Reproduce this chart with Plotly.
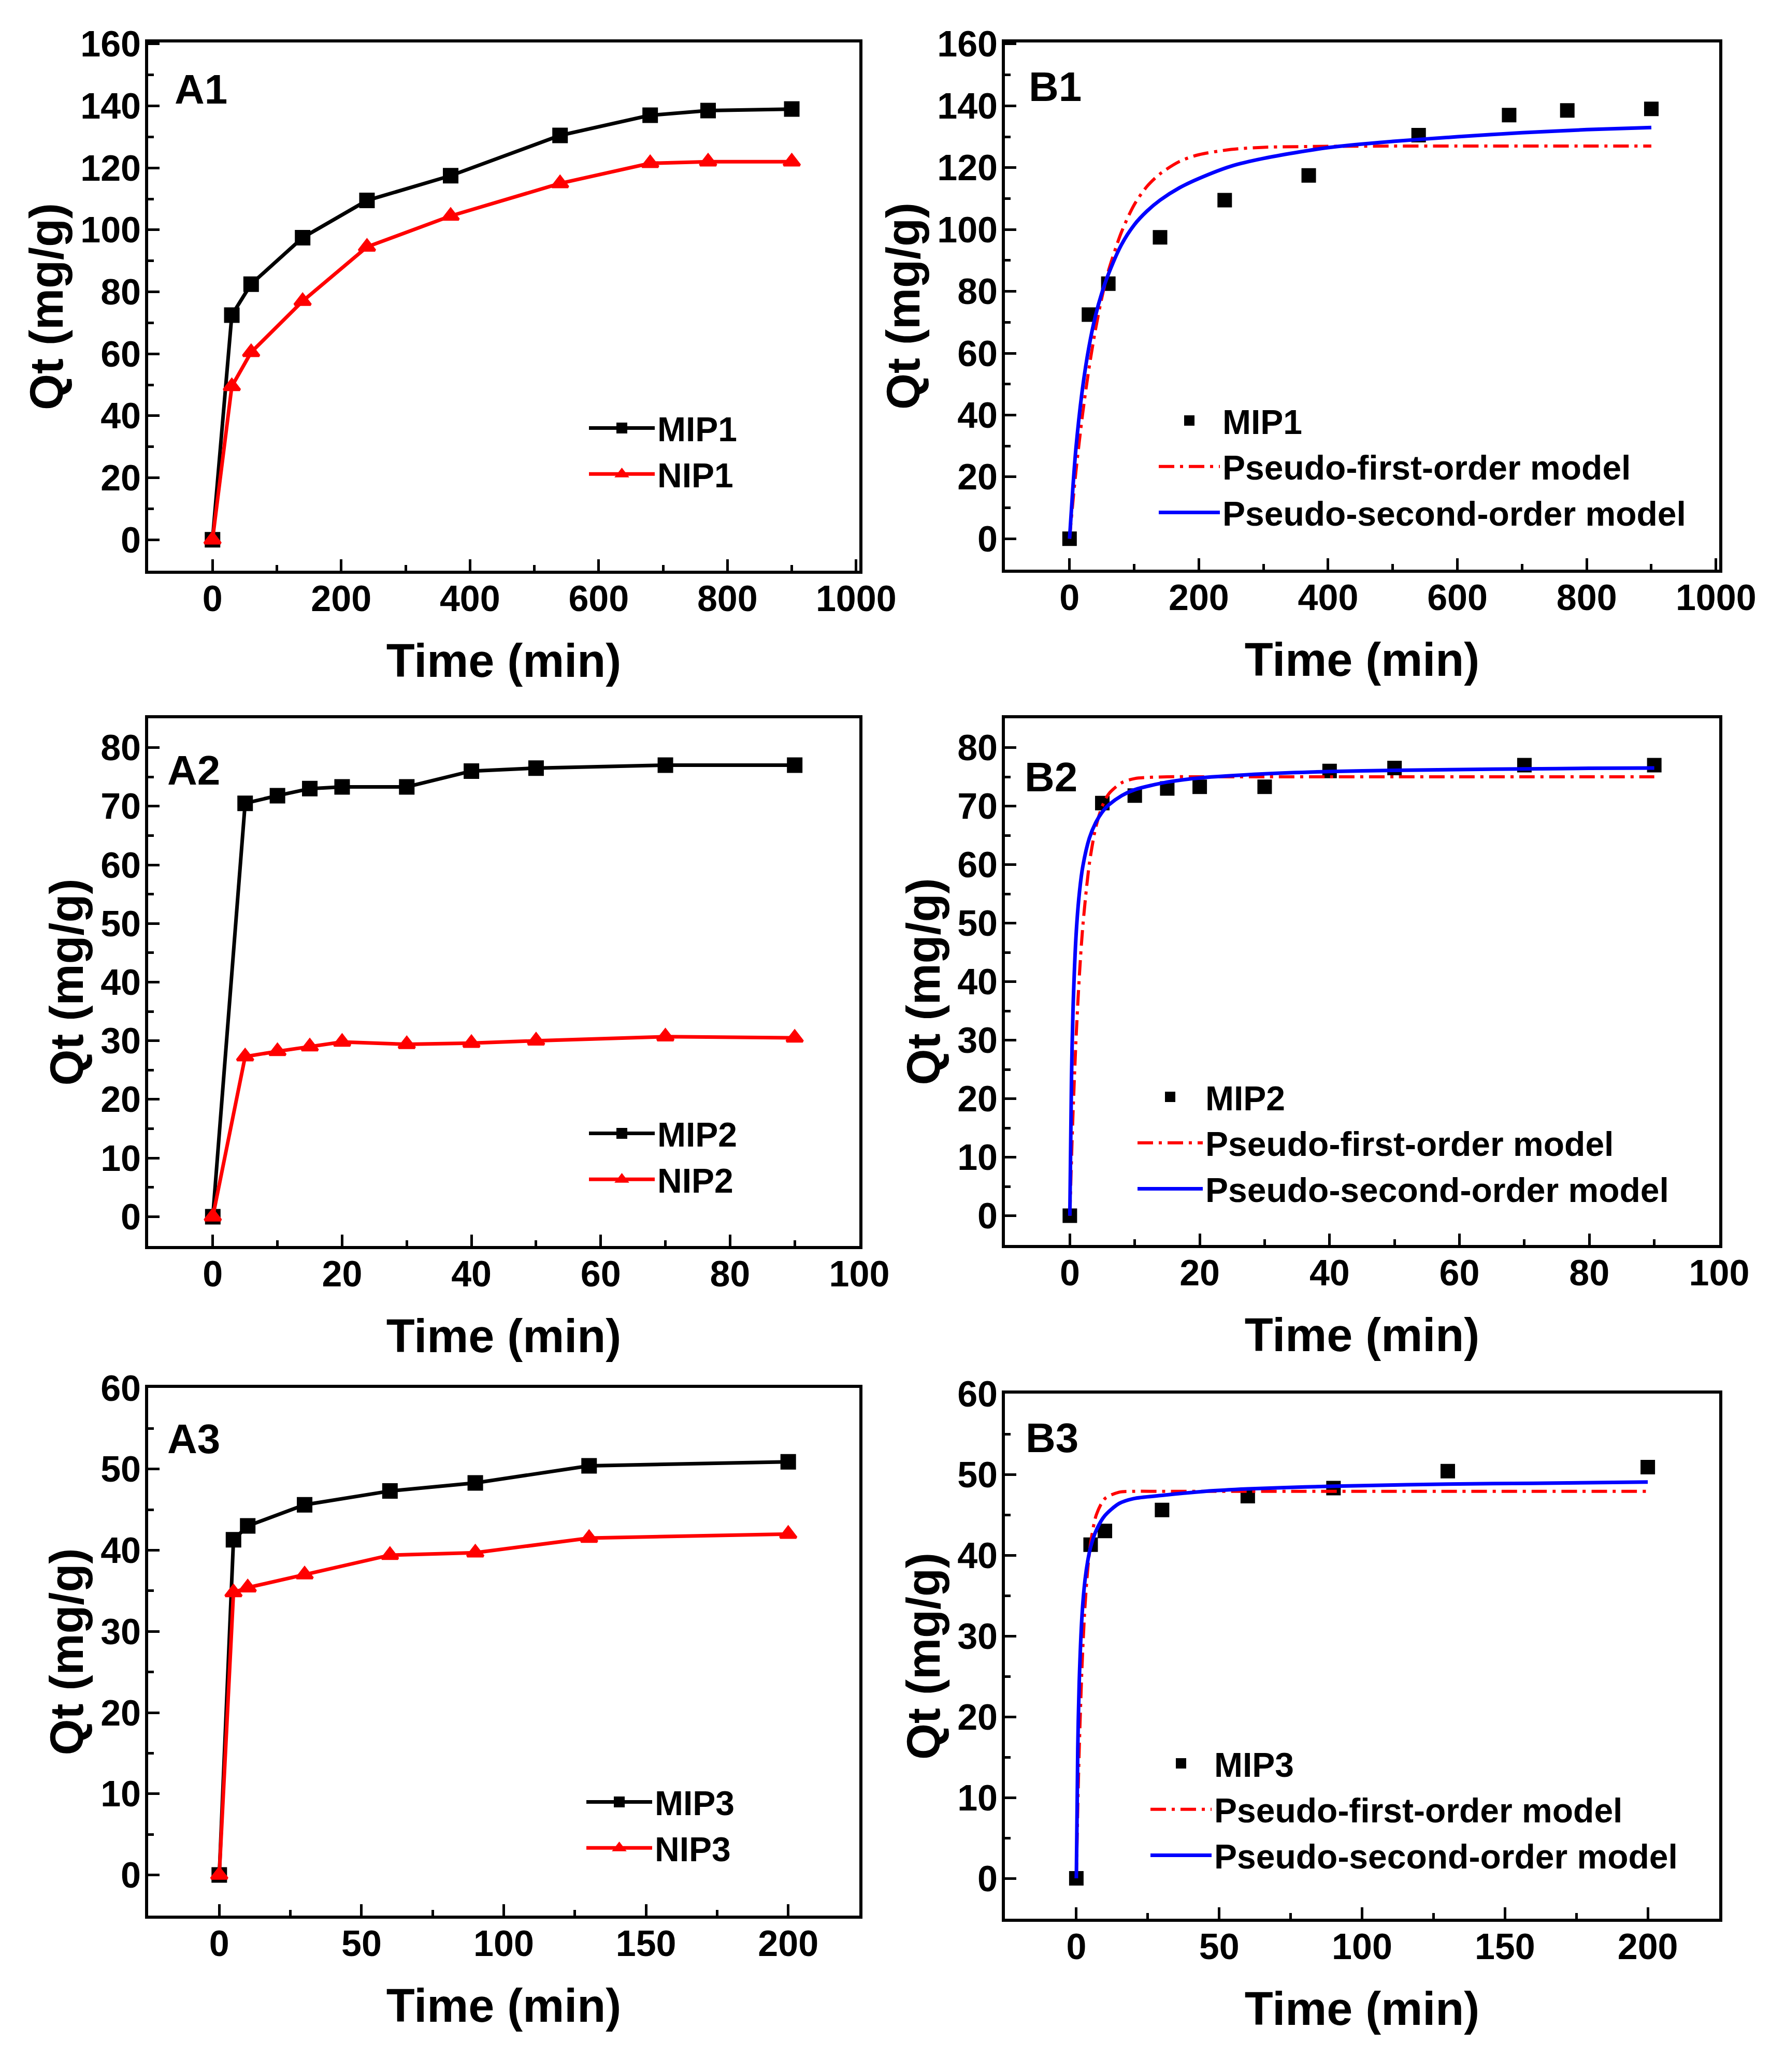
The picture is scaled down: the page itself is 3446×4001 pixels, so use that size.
import plotly.graph_objects as go

W, H = 3446, 4001

# ---- data ----
t1 = [0, 30, 60, 140, 240, 370, 540, 680, 770, 900]
mip1 = [0, 72.5, 82.5, 97.5, 109.5, 117.5, 130.5, 137, 138.5, 139]
nip1 = [0, 49.5, 60.5, 77, 94.5, 104.5, 115, 121.5, 122, 122]

t2 = [0, 5, 10, 15, 20, 30, 40, 50, 70, 90]
mip2 = [0, 70.5, 71.8, 73, 73.3, 73.3, 76, 76.5, 77, 77]
nip2 = [0, 27.3, 28.2, 29, 29.8, 29.4, 29.6, 30, 30.7, 30.5]

t3 = [0, 5, 10, 30, 60, 90, 130, 200]
mip3 = [0, 41.3, 43, 45.6, 47.3, 48.3, 50.4, 50.9]
nip3 = [0, 34.8, 35.4, 37, 39.4, 39.7, 41.5, 42]

# fitted curves
fit_t1 = [0, 5, 10, 20, 30, 40, 50, 60, 80, 100, 120, 140, 170, 200, 250, 300, 400, 500, 600, 700, 800, 900]
pfo1 = [0, 11.5, 22, 40, 55, 67.5, 78, 86.5, 99, 108, 114, 118, 122, 124.2, 125.9, 126.6, 126.9, 127, 127, 127, 127, 127]
pso1 = [0, 16, 29.5, 48.5, 62, 72, 79.5, 85.5, 95, 101.5, 106, 109.5, 113.5, 116.5, 120.5, 123, 126.5, 128.5, 130, 131.3, 132.3, 133]

fit_t2 = [0, 0.25, 0.5, 1, 1.5, 2, 3, 4, 5, 6, 8, 10, 15, 20, 30, 40, 50, 60, 70, 80, 90]
pfo2 = [0, 9.5, 17.8, 31.3, 41.6, 49.5, 60.1, 66.4, 70, 72.1, 74, 74.7, 75, 75, 75, 75, 75, 75, 75, 75, 75]
pso2 = [0, 23.2, 35.6, 48.7, 55.5, 59.7, 64.5, 67.2, 69, 70.2, 71.8, 72.8, 74.1, 74.8, 75.5, 75.9, 76.1, 76.25, 76.35, 76.45, 76.5]

fit_t3 = [0, 0.5, 1, 2, 3, 4, 5, 7, 10, 15, 20, 30, 45, 60, 80, 100, 130, 160, 200]
pfo3 = [0, 8.7, 15.8, 26.3, 33.5, 38.3, 41.5, 45, 47, 47.8, 47.9, 47.9, 47.9, 47.9, 47.9, 47.9, 47.9, 47.9, 47.9]
pso3 = [0, 16, 24.2, 32.6, 36.8, 39.3, 41, 43.1, 44.9, 46.4, 47, 47.4, 47.9, 48.2, 48.45, 48.6, 48.8, 48.9, 49.05]

FONT = "Liberation Sans"

fig = go.Figure()

# panel A traces (experimental, with lines)
panelsA = [
    ("x", "y", t1, mip1, nip1, "MIP1", "NIP1", "legend"),
    ("x3", "y3", t2, mip2, nip2, "MIP2", "NIP2", "legend3"),
    ("x5", "y5", t3, mip3, nip3, "MIP3", "NIP3", "legend5"),
]
for xa, ya, t, m, n, lm, ln, lg in panelsA:
    fig.add_trace(go.Scatter(x=t, y=m, name=lm, xaxis=xa, yaxis=ya, legend=lg,
                             mode="lines+markers",
                             line=dict(color="black", width=7),
                             marker=dict(symbol="square", size=25, color="black",
                                         line=dict(color="black", width=5))))
    fig.add_trace(go.Scatter(x=t, y=n, name=ln, xaxis=xa, yaxis=ya, legend=lg,
                             mode="lines+markers",
                             line=dict(color="#ff0000", width=7),
                             marker=dict(symbol="triangle-up", size=27, color="#ff0000",
                                         line=dict(color="#ff0000", width=5))))

# panel B traces (points + model fits)
panelsB = [
    ("x2", "y2", t1, mip1, fit_t1, pfo1, pso1, "MIP1", "legend2"),
    ("x4", "y4", t2, mip2, fit_t2, pfo2, pso2, "MIP2", "legend4"),
    ("x6", "y6", t3, mip3, fit_t3, pfo3, pso3, "MIP3", "legend6"),
]
for xa, ya, t, m, ft, p1, p2, lm, lg in panelsB:
    fig.add_trace(go.Scatter(x=t, y=m, name=lm, xaxis=xa, yaxis=ya, legend=lg,
                             mode="markers",
                             marker=dict(symbol="square", size=24, color="black",
                                         line=dict(color="black", width=4))))
    fig.add_trace(go.Scatter(x=ft, y=p1, name="Pseudo-first-order model", xaxis=xa, yaxis=ya,
                             legend=lg, mode="lines",
                             line=dict(color="#ff0000", width=6, dash="30px,11px,6px,11px",
                                       shape="spline", smoothing=0.8)))
    fig.add_trace(go.Scatter(x=ft, y=p2, name="Pseudo-second-order model", xaxis=xa, yaxis=ya,
                             legend=lg, mode="lines",
                             line=dict(color="#0000ff", width=7, shape="spline", smoothing=0.8)))

# layout geometry (pixel positions measured on the reference,
# minus the 8px page margin the html body adds)
OFF = 8

def fx(px):
    return (px - OFF) / W

def fy(py):
    return 1 - (py - OFF) / H

xdomA = [fx(286), fx(1659)]
xdomB = [fx(1940), fx(3319)]
ydoms = {
    1: [fy(1102), fy(82)], 2: [fy(1100), fy(82)],
    3: [fy(2406), fy(1387)], 4: [fy(2404), fy(1387)],
    5: [fy(3699), fy(2680)], 6: [fy(3705), fy(2691)],
}
xranges = {1: [-100, 1005], 2: [-100, 1005], 3: [-10, 100], 4: [-10, 100], 5: [-25, 225], 6: [-25, 225]}
yranges = {1: [-10, 160.5], 2: [-10, 160.5], 3: [-5, 85], 4: [-5, 85], 5: [-5, 60], 6: [-5, 60]}
xdt = {1: 200, 2: 200, 3: 20, 4: 20, 5: 50, 6: 50}
ydt = {1: 20, 2: 20, 3: 10, 4: 10, 5: 10, 6: 10}

tickfont = dict(family=FONT, size=70, color="black", weight="bold")
titlefont = dict(family=FONT, size=90, color="black", weight="bold")

for i in range(1, 7):
    sfx = "" if i == 1 else str(i)
    common = dict(showline=True, linewidth=6, linecolor="black", mirror=True,
                  showgrid=False, zeroline=False, ticks="inside", ticklen=22,
                  tickwidth=5, tickcolor="black", tickfont=tickfont, automargin=False)
    fig.layout["xaxis" + sfx] = dict(
        common, domain=xdomA if i % 2 else xdomB, range=xranges[i],
        anchor="y" + sfx, dtick=xdt[i], tick0=0, ticklabelstandoff=-12,
        minor=dict(ticks="inside", ticklen=11, tickwidth=5, dtick=xdt[i] / 2, tickcolor="black"),
        title=dict(text="Time (min)", font=titlefont, standoff=52))
    fig.layout["yaxis" + sfx] = dict(
        common, domain=ydoms[i], range=yranges[i], anchor="x" + sfx,
        dtick=ydt[i], tick0=0, ticklabelstandoff=-6,
        minor=dict(ticks="inside", ticklen=11, tickwidth=5, dtick=ydt[i] / 2, tickcolor="black"),
        title=dict(text="Qt (mg/g)", font=titlefont, standoff=6))

legfont = dict(family=FONT, size=66, color="black", weight="bold")
legpos = {
    "legend": (1132, 871, 127), "legend3": (1132, 2233, 127), "legend5": (1127, 3524, 127),
    "legend2": (2232, 901, 118), "legend4": (2191, 2207, 126), "legend6": (2216, 3494, 118),
}
for name, (lx, ly, iw) in legpos.items():
    fig.layout[name] = dict(x=fx(lx), y=fy(ly), xanchor="left", yanchor="middle",
                            bgcolor="rgba(0,0,0,0)", borderwidth=0, font=legfont,
                            itemwidth=iw, tracegroupgap=0)

labels = [("A1", 335, 172), ("B1", 1984, 168), ("A2", 321, 1488), ("B2", 1976, 1500),
          ("A3", 321, 2778), ("B3", 1978, 2776)]
for txt, lx, ly in labels:
    fig.add_annotation(text=txt, x=fx(lx), y=fy(ly), xref="paper", yref="paper",
                       xanchor="left", yanchor="middle", showarrow=False,
                       font=dict(family=FONT, size=80, color="black", weight="bold"))

fig.update_layout(width=W, height=H,
                  margin=dict(l=0, r=0, t=0, b=0, pad=0, autoexpand=False),
                  paper_bgcolor="white", plot_bgcolor="white", showlegend=True)

fig.write_html("out.html")
